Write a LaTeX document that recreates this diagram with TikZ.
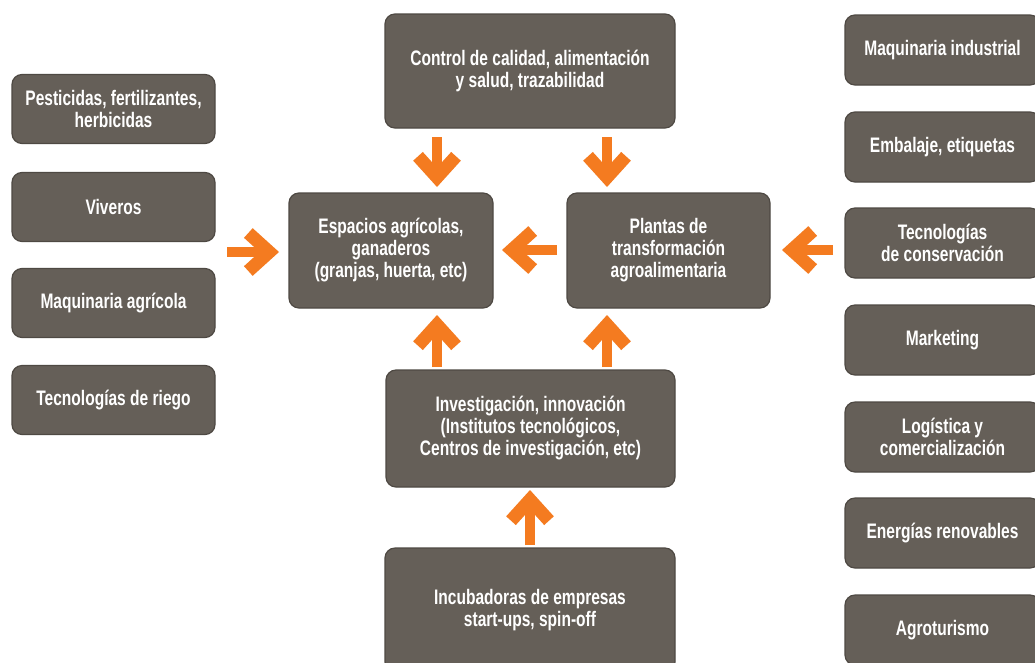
\documentclass[tikz,border=0pt]{standalone}
\usepackage{fontspec}
\setmainfont{Liberation Sans}[FakeStretch=0.74]
\usetikzlibrary{arrows.meta}
\definecolor{boxfill}{HTML}{655F58}
\definecolor{boxedge}{HTML}{4E4943}
\definecolor{arroworange}{HTML}{F47B20}
\tikzset{
  box/.style={draw=boxedge, line width=1.2pt, fill=boxfill, rounded corners=10pt,
    text=white, align=center, inner sep=2pt,
    font=\bfseries\fontsize{21}{22}\selectfont},
  leftbox/.style={box, minimum width=203pt, minimum height=69pt},
  rightbox/.style={box, minimum width=195pt, minimum height=70pt},
  bigarrow/.style={draw=arroworange, line width=10pt,
    -{Straight Barb[length=21pt, width=38pt, line width=13pt]}},
}
\begin{document}
\begin{tikzpicture}[x=1pt, y=-1pt]
\useasboundingbox (0,0) rectangle (1035,662);
\fill[white] (0,0) rectangle (1035,662);
\clip (0,0) rectangle (1035,662);
% left column
\node[leftbox] (pest) at (113.5,109) {Pesticidas, fertilizantes,\\herbicidas};
\node[leftbox] (viv)  at (113.5,207) {Viveros};
\node[leftbox] (maqa) at (113.5,303) {Maquinaria agrícola};
\node[leftbox] (riego) at (113.5,400) {Tecnologías de riego};
% centre
\node[box, minimum width=290pt, minimum height=114pt] (ctl) at (530,71)
  {Control de calidad, alimentación\\y salud, trazabilidad};
\node[box, minimum width=204pt, minimum height=115pt] (esp) at (391,250.5)
  {Espacios agrícolas,\\ganaderos\\(granjas, huerta, etc)};
\node[box, minimum width=203pt, minimum height=115pt] (plan) at (668.5,250.5)
  {Plantas de\\transformación\\agroalimentaria};
\node[box, minimum width=289pt, minimum height=117pt] (inv) at (530.5,428.5)
  {Investigación, innovación\\(Institutos tecnológicos,\\Centros de investigación, etc)};
\node[box, minimum width=290pt, minimum height=124pt] (inc) at (530,610)
  {Incubadoras de empresas\\start-ups, spin-off};
% right column
\node[rightbox] (maqi) at (942.5,50) {Maquinaria industrial};
\node[rightbox] (emb)  at (942.5,147) {Embalaje, etiquetas};
\node[rightbox] (cons) at (942.5,243) {Tecnologías\\de conservación};
\node[rightbox] (mkt)  at (942.5,340) {Marketing};
\node[rightbox] (log)  at (942.5,437) {Logística y\\comercialización};
\node[rightbox] (ener) at (942.5,533) {Energías renovables};
\node[rightbox] (agro) at (942.5,630) {Agroturismo};
% arrow end points
\coordinate (la0) at (227,252);  \coordinate (la1) at (279,252);
\coordinate (ra0) at (557,250);  \coordinate (ra1) at (502,250);
\coordinate (rb0) at (833,250);  \coordinate (rb1) at (782,250);
\coordinate (da0) at (437,137);  \coordinate (da1) at (437,187);
\coordinate (db0) at (607,137);  \coordinate (db1) at (607,187);
\coordinate (ua0) at (437,367);  \coordinate (ua1) at (437,315);
\coordinate (ub0) at (607,367);  \coordinate (ub1) at (607,315);
\coordinate (uc0) at (530,545);  \coordinate (uc1) at (530,490);
\draw[bigarrow] (la0) -- (la1);
\draw[bigarrow] (ra0) -- (ra1);
\draw[bigarrow] (rb0) -- (rb1);
\draw[bigarrow] (da0) -- (da1);
\draw[bigarrow] (db0) -- (db1);
\draw[bigarrow] (ua0) -- (ua1);
\draw[bigarrow] (ub0) -- (ub1);
\draw[bigarrow] (uc0) -- (uc1);
\end{tikzpicture}
\end{document}
